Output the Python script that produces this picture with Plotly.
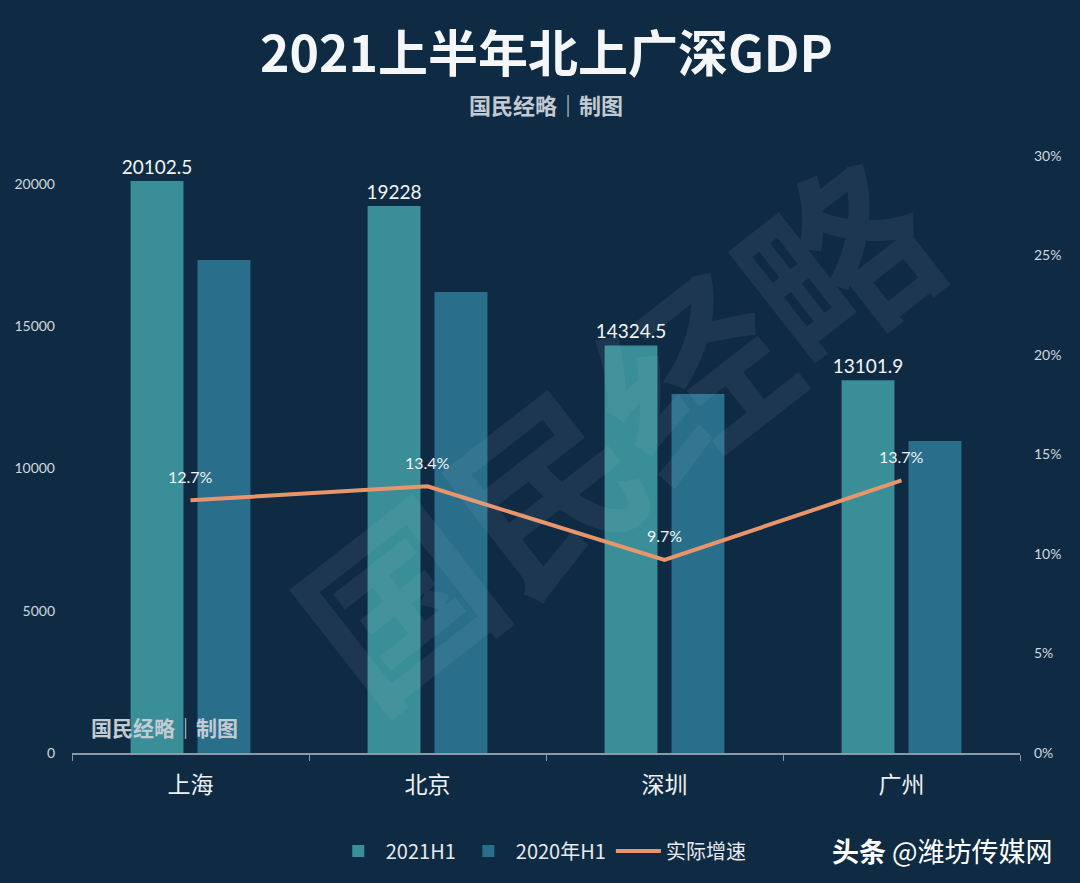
import plotly.graph_objects as go

cities = ["上海", "北京", "深圳", "广州"]
gdp_2021h1 = [20102.5, 19228, 14324.5, 13101.9]
gdp_2020h1 = [17330, 16205, 12620, 10970]
growth = [0.127, 0.134, 0.097, 0.137]
growth_labels = ["12.7%", "13.4%", "9.7%", "13.7%"]
gdp_labels = ["20102.5", "19228", "14324.5", "13101.9"]
y1_ticks = [0, 5000, 10000, 15000, 20000]
y1_ticktext = ["0", "5000", "10000", "15000", "20000"]

BG = "#0f2b43"
C2021 = "#3a8e97"
C2020 = "#296e8b"
CLINE = "#e9956b"
FONT = "Lato, Noto Sans CJK SC, sans-serif"
CJK = "Noto Sans CJK SC, sans-serif"

fig = go.Figure()
fig.add_trace(go.Bar(
    x=cities, y=gdp_2021h1, name="2021H1", marker=dict(color=C2021, line_width=0),
    text=gdp_labels, textposition="outside", cliponaxis=False, constraintext="none",
    textfont=dict(size=19, color="#f2f4f6", family=FONT),
))
fig.add_trace(go.Bar(
    x=cities, y=gdp_2020h1, name="2020年H1", marker=dict(color=C2020, line_width=0),
))
fig.add_trace(go.Scatter(
    x=cities, y=growth, name="实际增速", yaxis="y2", mode="lines",
    line=dict(color=CLINE, width=4), cliponaxis=False,
))
for c, g, t in zip(cities, growth, growth_labels):
    fig.add_annotation(
        x=c, y=g, xref="x", yref="y2", text=t, showarrow=False, yshift=24,
        font=dict(size=16, color="#f2f4f6", family=FONT),
    )

fig.update_layout(
    width=1080, height=883,
    paper_bgcolor=BG, plot_bgcolor=BG,
    margin=dict(l=72, r=60, t=156, b=130, autoexpand=False),
    barmode="group", bargap=0.435, bargroupgap=0.21,
    font=dict(family=FONT, color="#e6eaee"),
    showlegend=True,
    legend=dict(orientation="h", x=0.495, xanchor="center", y=-0.164, yanchor="middle",
                font=dict(size=20, color="#e6eaee", family=CJK), bgcolor="rgba(0,0,0,0)",
                traceorder="normal", itemwidth=45),
    xaxis=dict(
        showline=True, linecolor="#8a9aa8", linewidth=2, ticks="outside",
        tickson="boundaries", ticklen=6, tickcolor="#8a9aa8", ticklabelstandoff=10,
        tickfont=dict(size=23, color="#eef1f4", family=CJK), showgrid=False,
    ),
    yaxis=dict(
        range=[0, 20984], tickvals=y1_ticks, ticktext=y1_ticktext, showgrid=False,
        zeroline=False, tickfont=dict(size=14, color="#d0d8df"), ticklabelstandoff=16,
    ),
    yaxis2=dict(
        range=[0, 0.30], overlaying="y", side="right", tickformat=".0%", dtick=0.05,
        showgrid=False, zeroline=False, tickfont=dict(size=14, color="#d0d8df"),
        ticklabelstandoff=13,
    ),
)

fig.add_annotation(
    text="<b>2021上半年北上广深GDP</b>", xref="paper", yref="paper", x=0.5, y=1.0,
    xanchor="center", yanchor="middle", yshift=106, showarrow=False,
    font=dict(size=50, color="#f4f6f8", family=CJK),
)
fig.add_annotation(
    text="<b>国民经略｜制图</b>", x=0.5, y=1.0, yshift=52, xref="paper", yref="paper",
    xanchor="center", yanchor="middle",
    showarrow=False, font=dict(size=22, color="#c2cbd3", family=CJK),
)
fig.add_annotation(
    text="<b>国民经略</b>", x=0.57, y=0.55, xref="paper", yref="paper",
    showarrow=False, textangle=-38,
    font=dict(size=185, color="rgba(200,215,230,0.075)", family=CJK),
)
fig.add_annotation(
    text="<b>国民经略｜制图</b>", x=0.098, y=0.0436, xref="paper", yref="paper",
    xanchor="center", yanchor="middle",
    showarrow=False, font=dict(size=21, color="#c2cbd3", family=CJK),
)
fig.add_annotation(
    text="<b>头条</b> @潍坊传媒网", x=1.037, y=-0.164, xref="paper", yref="paper",
    xanchor="right", yanchor="middle", showarrow=False,
    font=dict(size=27, color="#ffffff", family=CJK),
)

fig.write_html("out.html", config={"displayModeBar": False},
               post_script="document.body.style.margin='0';")
